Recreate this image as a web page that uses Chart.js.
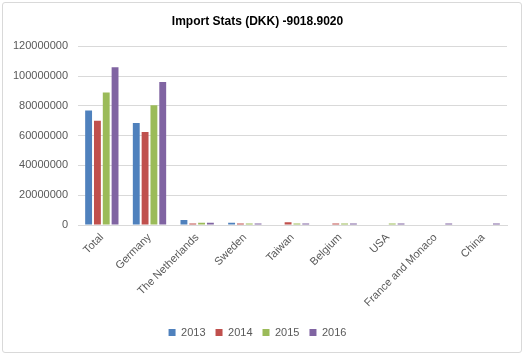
<!DOCTYPE html>
<html><head><meta charset="utf-8">
<script src="https://cdn.jsdelivr.net/npm/chart.js@4/dist/chart.umd.min.js"></script>
<style>
html,body{margin:0;padding:0;background:#fff;}
#frame{position:absolute;left:2px;top:2px;width:518px;height:349px;border:1px solid #d9d9d9;border-radius:3px;}
#wrap{position:absolute;left:0;top:0;width:525px;height:356px;}
</style></head>
<body>
<div id="frame"></div>
<div id="wrap"><canvas id="c" width="525" height="356"></canvas></div>
<script>
const categories = ["Total","Germany","The Netherlands","Sweden","Taiwan","Belgium","USA","France and Monaco","China"];
const years = ["2013","2014","2015","2016"];
const v2013 = [77000000, 68500000, 3400000, 1500000, 0, 0, 0, 0, 0];
const v2014 = [70000000, 62500000, 1000000, 1000000, 1800000, 1000000, 0, 0, 0];
const v2015 = [89000000, 80500000, 1500000, 1000000, 1000000, 1000000, 1000000, 0, 0];
const v2016 = [106000000, 96000000, 1500000, 1000000, 1000000, 1000000, 1000000, 1000000, 1000000];
const colors = ["#4f81bd","#c0504d","#9bbb59","#8064a2"];
const yTicks = [0,20000000,40000000,60000000,80000000,100000000,120000000];

const font = "'Liberation Sans', Arial, sans-serif";
new Chart(document.getElementById('c'), {
  type: 'bar',
  data: {
    labels: categories,
    datasets: [v2013, v2014, v2015, v2016].map((d, i) => ({
      label: years[i], data: d, backgroundColor: colors[i], borderWidth: 0,
      barPercentage: 0.78, categoryPercentage: 0.74
    }))
  },
  options: {
    responsive: false, animation: false,
    layout: { padding: { left: 8, right: 18, top: 6, bottom: 8 } },
    plugins: {
      title: { display: true, text: 'Import Stats (DKK) -9018.9020', color: '#000',
        font: { family: font, size: 12, weight: 'bold' }, padding: { top: 8, bottom: 18 } },
      legend: { position: 'bottom', labels: { boxWidth: 7, boxHeight: 7, color: '#595959',
        font: { family: font, size: 11 }, padding: 10 } },
      tooltip: { enabled: false }
    },
    scales: {
      x: {
        grid: { display: false, drawTicks: false },
        border: { color: '#d9d9d9', width: 1 },
        ticks: { color: '#595959', font: { family: font, size: 11 }, maxRotation: 45, minRotation: 45, autoSkip: false, padding: 6 },
        afterFit: (s) => { s.height = 92; }
      },
      y: {
        min: 0, max: 120000000,
        afterBuildTicks: (ax) => { ax.ticks = yTicks.map(v => ({ value: v })); },
        grid: { color: '#d9d9d9', drawTicks: false },
        border: { display: false },
        ticks: { color: '#595959', font: { family: font, size: 11 }, padding: 10,
          callback: (v) => String(v) },
        afterFit: (s) => { s.width = 70; }
      }
    }
  }
});
</script>
</body></html>
